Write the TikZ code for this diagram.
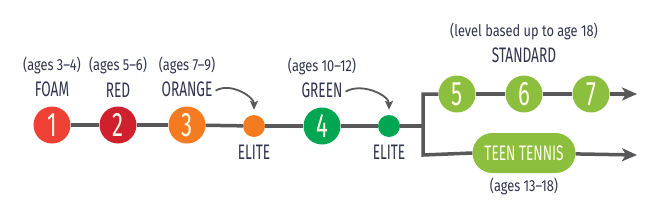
\documentclass[tikz,border=0pt]{standalone}
\usepackage{fontspec}
\setmainfont[FakeStretch=0.65]{Fira Sans}
\newfontfamily\agefont[FakeStretch=0.8]{Fira Sans}
\usetikzlibrary{positioning,arrows.meta}
\definecolor{txtnavy}{RGB}{48,52,78}
\definecolor{linegray}{RGB}{88,88,90}
\definecolor{foamred}{RGB}{238,64,53}
\definecolor{redred}{RGB}{208,32,46}
\definecolor{orangefill}{RGB}{244,123,32}
\definecolor{greenfill}{RGB}{0,166,81}
\definecolor{limefill}{RGB}{141,191,63}
\definecolor{numwhite}{RGB}{255,252,232}

\begin{document}
\begin{tikzpicture}[x=1pt,y=-1pt, line join=miter]

\tikzset{
  main/.style={draw=linegray, line width=3.5pt},
  tip/.style={-{Stealth[length=15pt,width=13pt,inset=4pt]}},
  hook/.style={draw=linegray, line width=1.8pt, -{Stealth[length=9pt,width=8pt,inset=2pt]}, shorten >=5pt},
  ball/.style={circle, minimum size=37pt, inner sep=0pt, text=numwhite, font=\fontsize{34}{34}\selectfont},
  dot/.style={circle, minimum size=22pt, inner sep=0pt},
  pill/.style={rounded corners=20pt, fill=limefill, minimum width=103pt, minimum height=40pt, inner sep=0pt, text=numwhite, font=\fontsize{21}{24}\selectfont},
  lvl/.style={text=txtnavy, font=\fontsize{21}{24}\selectfont, inner sep=0pt},
  age/.style={text=txtnavy, font=\agefont\fontsize{16}{18}\selectfont, inner sep=0pt},
}

\useasboundingbox (0,0) rectangle (663,206);

% vertices
\node[ball, fill=foamred]    (c1) at (52,125)  {1};
\node[ball, fill=redred]     (c2) at (118,125) {2};
\node[ball, fill=orangefill] (c3) at (187,125) {3};
\node[dot, fill=orangefill]  (e1) at (254,126) {};
\node[ball, fill=greenfill]  (c4) at (322,126) {4};
\node[dot, fill=greenfill]   (e2) at (389,126) {};
\node[ball, fill=limefill]   (c5) at (457,94)  {5};
\node[ball, fill=limefill]   (c6) at (524,94)  {6};
\node[ball, fill=limefill]   (c7) at (591,94)  {7};
\node[pill] (teen) at (524,153) {TEEN TENNIS};

% junction and arrow ends
\coordinate (J)    at (423,126);
\coordinate (Jt)   at (423,94);
\coordinate (Jb)   at (423,155);
\coordinate (endt) at (637,94);
\coordinate (endb) at (637,155);

% main line
\draw[main] (c1) -- (c2);
\draw[main] (c2) -- (c3);
\draw[main] (c3) -- (e1);
\draw[main] (e1) -- (c4);
\draw[main] (c4) -- (e2);
\draw[main] (e2) -- (J);

% branches
\draw[main] (c5.west) -- (Jt) -- (Jb) -- (teen.west);
\draw[main] (c5) -- (c6);
\draw[main] (c6) -- (c7);
\draw[main, tip] (c7) -- (endt);
\draw[main, tip] (teen) -- (endb);

% labels
\node[lvl, above=9pt of c1]  (foam) {FOAM};
\node[lvl, above=9pt of c2]  (red) {RED};
\node[lvl, above=9pt of c3]  (orange) {ORANGE};
\node[lvl, above=9pt of c4]  (green) {GREEN};
\node[lvl, below=8pt of e1]  (elite1) {ELITE};
\node[lvl, below=8pt of e2]  (elite2) {ELITE};
\node[lvl, above=12pt of c6] (std) {STANDARD};

\node[age, above=8pt of foam]   (age1) {(ages 3–4)};
\node[age, above=8pt of red]    (age2) {(ages 5–6)};
\node[age, above=8pt of orange] (age3) {(ages 7–9)};
\node[age, above=8pt of green]  (age4) {(ages 10–12)};
\node[age, above=8pt of std]    (agestd) {(level based up to age 18)};
\node[age, below=5pt of teen]   (ageteen) {(ages 13–18)};

% elite arrows
\draw[hook] ([xshift=3pt,yshift=-1pt]orange.east) to[out=30,in=90] (e1.north);
\draw[hook] ([xshift=3pt,yshift=-1pt]green.east) to[out=30,in=90] (e2.north);

\end{tikzpicture}
\end{document}
